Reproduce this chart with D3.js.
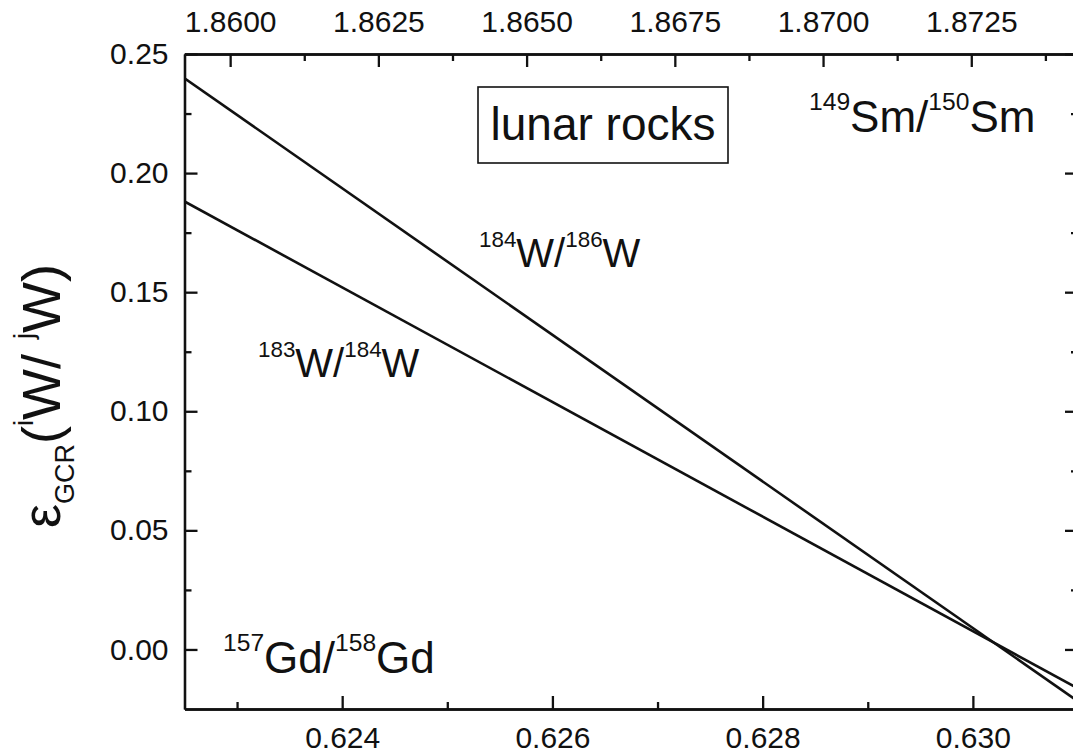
<!DOCTYPE html>
<html>
<head>
<meta charset="utf-8">
<script src="https://cdn.jsdelivr.net/npm/d3@7"></script>
<style>
  body { margin: 0; background: #fff; }
  svg { display: block; }
  text { font-family: "Liberation Sans", Arial, sans-serif; fill: #111; }
</style>
</head>
<body>
<div id="chart"></div>
<script>
const width = 1073;
const height = 755;
const padL = 184.5, padR = 1078, padT = 54, padB = 709;
const tickFont = 30;

// data
const xEnds = [0.6225, 0.631];
const w184_186 = [0.2398, -0.0218];
const w183_184 = [0.1881, -0.0164];

const xTicks = [0.624, 0.626, 0.628, 0.630];
const xMinor = [0.623, 0.625, 0.627, 0.629, 0.631];
const topTicks = [1.8600, 1.8625, 1.8650, 1.8675, 1.8700, 1.8725];
const topMinor = [1.86125, 1.86375, 1.86625, 1.86875, 1.87125, 1.87375];
const yTicks = [0, 0.05, 0.10, 0.15, 0.20, 0.25];
const yMinor = [0.025, 0.075, 0.125, 0.175, 0.225];

const lblW184 = [['184', 'sup'], ['W/', ''], ['186', 'sup'], ['W', '']];
const lblW183 = [['183', 'sup'], ['W/', ''], ['184', 'sup'], ['W', '']];
const lblSm = [['149', 'sup'], ['Sm/', ''], ['150', 'sup'], ['Sm', '']];
const lblGd = [['157', 'sup'], ['Gd/', ''], ['158', 'sup'], ['Gd', '']];
const lblY = [['ε', ''], ['GCR', 'sub'], ['(', ''], ['i', 'sup'], ['W/ ', ''], ['j', 'sup'], ['W)', '']];

const svg = d3.select('#chart')
  .append('svg')
  .attr('width', width)
  .attr('height', height);

const x = d3.scaleLinear().domain([0.6225, 0.631]).range([padL, padR]);
const xTop = d3.scaleLinear().domain([1.85923, 1.87430]).range([padL, padR]);
const y = d3.scaleLinear().domain([-0.025, 0.25]).range([padB, padT]);

function styleAxis(g) {
  g.attr('font-family', null).attr('font-size', null);
  g.selectAll('path, line').attr('stroke', '#111').attr('stroke-width', 2.3);
  g.selectAll('text').style('font-size', tickFont + 'px');
}

// minor ticks
svg.append('g').attr('transform', `translate(0,${padB})`)
  .call(d3.axisBottom(x).tickValues(xMinor).tickSize(-7).tickSizeOuter(0).tickFormat(''))
  .call(styleAxis);
svg.append('g').attr('transform', `translate(0,${padT})`)
  .call(d3.axisTop(xTop).tickValues(topMinor).tickSize(-7).tickSizeOuter(0).tickFormat(''))
  .call(styleAxis);
svg.append('g').attr('transform', `translate(${padL},0)`)
  .call(d3.axisLeft(y).tickValues(yMinor).tickSize(-7).tickSizeOuter(0).tickFormat(''))
  .call(styleAxis);
svg.append('g').attr('transform', `translate(${padR},0)`)
  .call(d3.axisRight(y).tickValues(yMinor).tickSize(-7).tickSizeOuter(0).tickFormat(''))
  .call(styleAxis);

// major ticks + labels
svg.append('g').attr('transform', `translate(0,${padB})`)
  .call(d3.axisBottom(x).tickValues(xTicks).tickSize(-13).tickSizeOuter(0)
    .tickPadding(18).tickFormat(d3.format('.3f')))
  .call(styleAxis);
svg.append('g').attr('transform', `translate(0,${padT})`)
  .call(d3.axisTop(xTop).tickValues(topTicks).tickSize(-13).tickSizeOuter(0)
    .tickPadding(22).tickFormat(d3.format('.4f')))
  .call(styleAxis);
svg.append('g').attr('transform', `translate(${padL},0)`)
  .call(d3.axisLeft(y).tickValues(yTicks).tickSize(-13).tickSizeOuter(0)
    .tickPadding(16).tickFormat(d3.format('.2f')))
  .call(styleAxis);
svg.append('g').attr('transform', `translate(${padR},0)`)
  .call(d3.axisRight(y).tickValues(yTicks).tickSize(-13).tickSizeOuter(0).tickFormat(''))
  .call(styleAxis);

// lines
svg.append('clipPath').attr('id', 'plot')
  .append('rect')
  .attr('x', padL).attr('y', padT)
  .attr('width', padR - padL).attr('height', padB - padT);

const line = d3.line().x(d => x(d[0])).y(d => y(d[1]));
[w184_186, w183_184].forEach(vals => {
  svg.append('path')
    .datum(d3.zip(xEnds, vals))
    .attr('clip-path', 'url(#plot)')
    .attr('fill', 'none')
    .attr('stroke', '#111')
    .attr('stroke-width', 2.6)
    .attr('d', line);
});

// labels with super/subscripts
function richText(parts, px, py, size, anchor, small) {
  const t = svg.append('text')
    .attr('x', px).attr('y', py)
    .attr('text-anchor', anchor || 'start')
    .style('font-size', size + 'px');
  let shift = 0;
  parts.forEach(([s, kind]) => {
    const target = kind === 'sup' ? -0.5 * size : kind === 'sub' ? 0.26 * size : 0;
    t.append('tspan')
      .attr('dy', target - shift)
      .style('font-size', kind ? ((small || 0.56) * size) + 'px' : size + 'px')
      .text(s);
    shift = target;
  });
  return t;
}

richText(lblW184, 479, 267, 40);
richText(lblW183, 258, 377, 40);
richText(lblSm, 809, 132, 44);
richText(lblGd, 223, 673, 44);

richText(lblY, 0, 0, 54, 'middle', 0.5)
  .attr('transform', 'translate(60,396) rotate(-90)');

// "lunar rocks" box
svg.append('rect')
  .attr('x', 478).attr('y', 87)
  .attr('width', 250).attr('height', 76)
  .attr('fill', 'none')
  .attr('stroke', '#111')
  .attr('stroke-width', 1.6);
svg.append('text')
  .attr('x', 603).attr('y', 140)
  .attr('text-anchor', 'middle')
  .style('font-size', '46px')
  .text('lunar rocks');
</script>
</body>
</html>
